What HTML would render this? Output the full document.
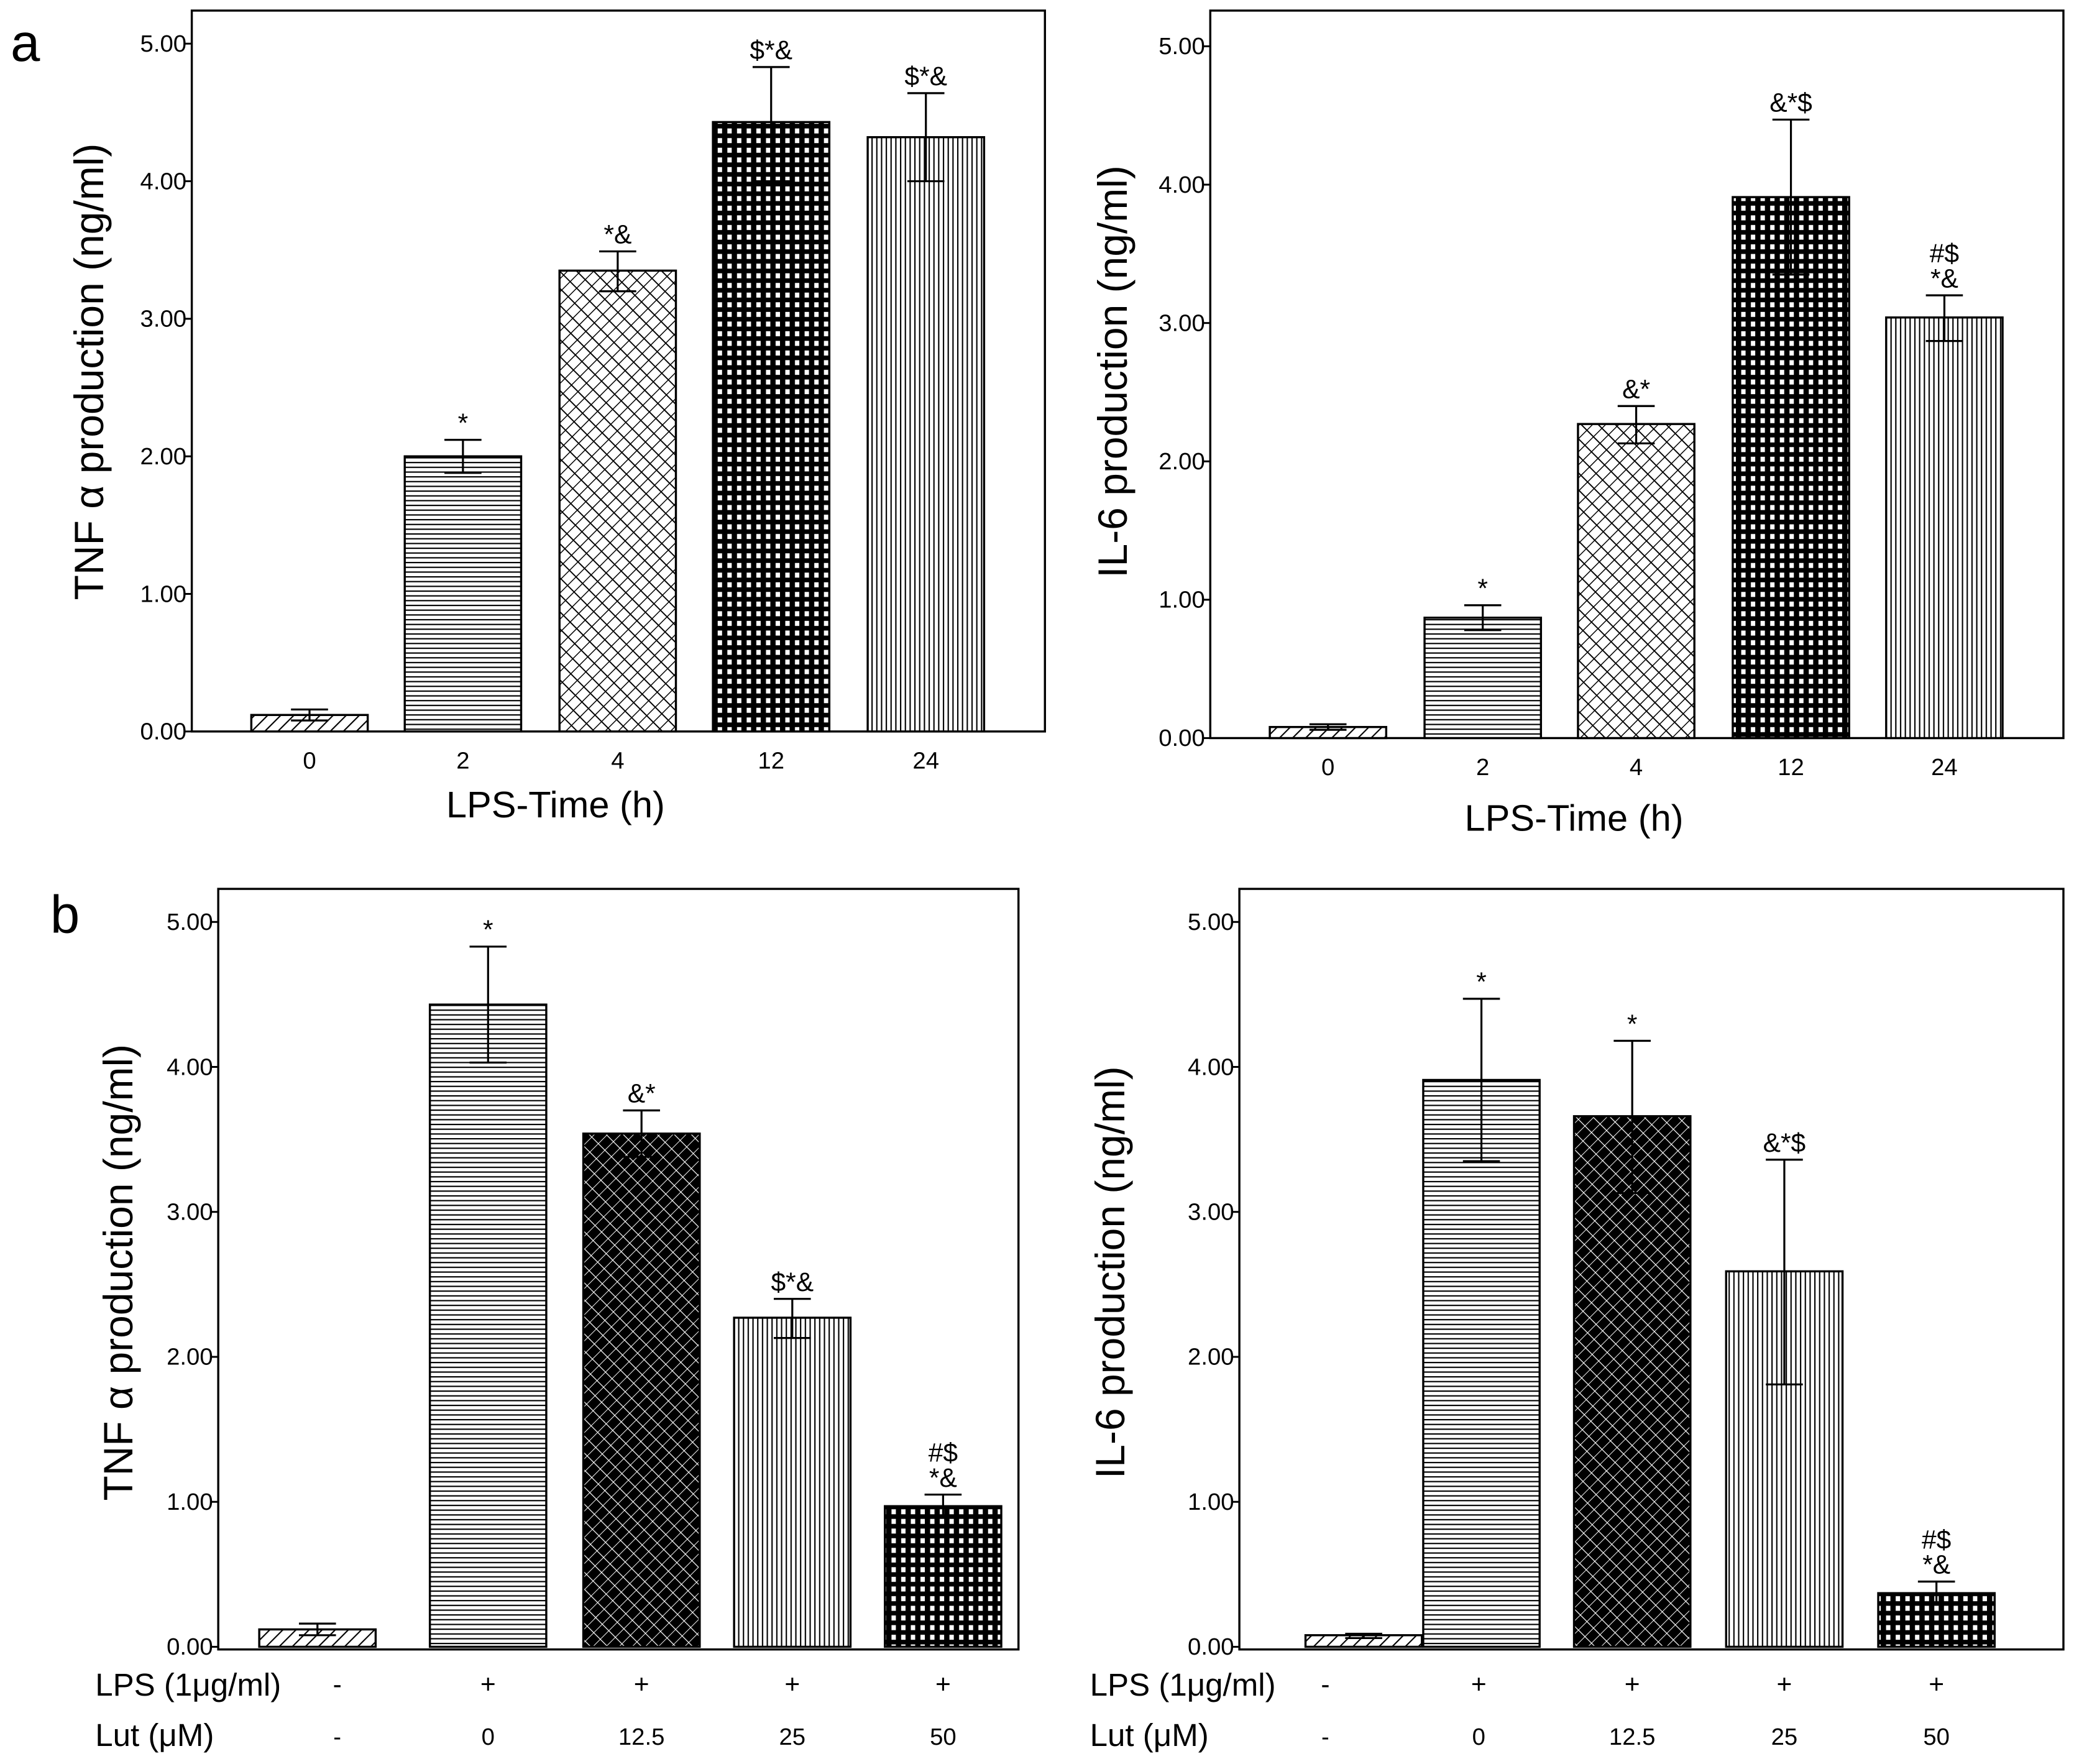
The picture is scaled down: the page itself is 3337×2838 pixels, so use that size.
<!DOCTYPE html>
<html><head><meta charset="utf-8"><style>
html,body{margin:0;padding:0;background:#fff}
svg{display:block}
text{font-family:"Liberation Sans",Arial,sans-serif;fill:#000}
</style></head><body>
<svg id="fig" width="3337" height="2838" viewBox="0 0 1568 1333.6" preserveAspectRatio="none" xmlns="http://www.w3.org/2000/svg">
<defs>
<pattern id="pDiag" patternUnits="userSpaceOnUse" width="7" height="7" patternTransform="rotate(45)"><rect width="7" height="7" fill="#fff"/><line x1="0" y1="0" x2="0" y2="7" stroke="#000" stroke-width="2"/></pattern>
<pattern id="pHoriz" patternUnits="userSpaceOnUse" width="4" height="3.6"><rect width="4" height="3.6" fill="#fff"/><line x1="0" y1="0.5" x2="4" y2="0.5" stroke="#000" stroke-width="1"/></pattern>
<pattern id="pVert" patternUnits="userSpaceOnUse" width="3.6" height="4"><rect width="3.6" height="4" fill="#fff"/><line x1="0.5" y1="0" x2="0.5" y2="4" stroke="#000" stroke-width="1"/></pattern>
<pattern id="pCross" patternUnits="userSpaceOnUse" width="7" height="7" patternTransform="rotate(45) scale(1,1.3)"><rect width="7" height="7" fill="#fff"/><line x1="0" y1="0" x2="7" y2="0" stroke="#000" stroke-width="1.4"/><line x1="0" y1="0" x2="0" y2="7" stroke="#000" stroke-width="1.4"/></pattern>
<pattern id="pDark" patternUnits="userSpaceOnUse" width="7" height="7" patternTransform="rotate(45) scale(1,1.3)"><rect width="7" height="7" fill="#000"/><line x1="0" y1="0" x2="7" y2="0" stroke="#fff" stroke-width="0.9"/><line x1="0" y1="0" x2="0" y2="7" stroke="#fff" stroke-width="0.9"/></pattern>
<pattern id="pGrid" patternUnits="userSpaceOnUse" width="7.3" height="7.3"><rect width="7.3" height="7.3" fill="#000"/><rect x="2.4" y="2.2" width="3.3" height="3.8" fill="#fff"/></pattern>
</defs>
<g id="root"></g>
</svg>
<script>
// Panel a-left
const aLeftCats = ["0","2","4","12","24"];
const aLeftVals = [0.12, 2.0, 3.35, 4.43, 4.32];
const aLeftHi = [0.16, 2.12, 3.49, 4.83, 4.64];
const aLeftLo = [0.08, 1.88, 3.2, 4.0, 4.0];
const aLeftSig = [[""],["*"],["*&"],["$*&"],["$*&"]];
// Panel a-right
const aRightCats = ["0","2","4","12","24"];
const aRightVals = [0.08, 0.87, 2.27, 3.91, 3.04];
const aRightHi = [0.1, 0.96, 2.4, 4.47, 3.2];
const aRightLo = [0.06, 0.78, 2.13, 3.35, 2.87];
const aRightSig = [[""],["*"],["&*"],["&*$"],["#$","*&"]];
// Panel b-left
const bLeftLut = ["-","0","12.5","25","50"];
const bLeftLps = ["-","+","+","+","+"];
const bLeftVals = [0.12, 4.43, 3.54, 2.27, 0.97];
const bLeftHi = [0.16, 4.83, 3.7, 2.4, 1.05];
const bLeftLo = [0.08, 4.03, 3.38, 2.13, 0.9];
const bLeftSig = [[""],["*"],["&*"],["$*&"],["#$","*&"]];
// Panel b-right
const bRightLut = ["-","0","12.5","25","50"];
const bRightLps = ["-","+","+","+","+"];
const bRightVals = [0.08, 3.91, 3.66, 2.59, 0.37];
const bRightHi = [0.09, 4.47, 4.18, 3.36, 0.45];
const bRightLo = [0.06, 3.35, 3.13, 1.81, 0.3];
const bRightSig = [[""],["*"],["*"],["&*$"],["#$","*&"]];
const yTicks = [0,1,2,3,4,5];

const NS="http://www.w3.org/2000/svg";
const root=document.getElementById('root');
function mk(tag,attrs,parent,txt){const e=document.createElementNS(NS,tag);for(const k in attrs)e.setAttribute(k,attrs[k]);if(txt!==undefined)e.textContent=txt;(parent||root).appendChild(e);return e;}

function panel(p){
  const g=mk('g',{});
  
  
  const y=v=>p.y0-(p.y0-p.y5)*v/5;
  const box=mk('rect',{x:p.bx0,y:p.by0,width:p.bx1-p.bx0,height:p.by1-p.by0,fill:'none',stroke:'#000','stroke-width':1.6},g);
  
  
  yTicks.forEach(t=>{
    const yy=y(t);
    const tl=mk('line',{x1:p.bx0-5,y1:yy,x2:p.bx0,y2:yy,stroke:'#000','stroke-width':1.4},g);
    
    
    const tx=mk('text',{x:p.bx0-4,y:yy+6,'font-size':18,'text-anchor':'end'},g,t.toFixed(2));
    
    
  });
  const pats=p.pats;
  p.vals.forEach((v,i)=>{
    const cx=p.cx[i], w=p.bw;
    const r=mk('rect',{x:cx-w/2,y:y(v),width:w,height:p.y0-y(v),fill:'url(#'+pats[i]+')',stroke:'#000','stroke-width':1.6},g);
    
    
    const e=mk('path',{d:`M${cx},${y(p.lo[i])}V${y(p.hi[i])}M${cx-14},${y(p.hi[i])}H${cx+14}M${cx-14},${y(p.lo[i])}H${cx+14}`,stroke:pats[i]==='pGrid'||pats[i]==='pDark'?'#000':'#000','stroke-width':1.5,fill:'none'},g);
    
    
    const lines=p.sig[i];
    lines.forEach((s,k)=>{
      if(!s)return;
      const ty=y(p.hi[i])-6-(lines.length-1-k)*19;
      const st=mk('text',{x:cx,y:ty,'font-size':20,'text-anchor':'middle'},g,s);
      
      
    });
    if(p.cats){
      const ct=mk('text',{x:cx,y:p.by1+28,'font-size':18,'text-anchor':'middle'},g,p.cats[i]);
      
      
    } else {
      const l1=mk('text',{x:p.tcx[i],y:p.by1+33,'font-size':20,'text-anchor':'middle'},g,p.lps[i]);
      
      
      const l2=mk('text',{x:p.tcx[i],y:p.by1+72,'font-size':18,'text-anchor':'middle'},g,p.lut[i]);
      
      
    }
  });
  if(p.xlabel){
    const xl=mk('text',{x:p.xlx,y:p.xly,'font-size':28,'text-anchor':'middle'},g,p.xlabel);
    
    
  } else {
    const a=mk('text',{x:p.rowx,y:p.by1+35,'font-size':24},g,'LPS (1μg/ml)');
    
    
    const b=mk('text',{x:p.rowx,y:p.by1+73,'font-size':24},g,'Lut (μM)');
    
    
  }
  const yl=mk('text',{x:0,y:0,'font-size':31,'text-anchor':'middle',transform:`translate(${p.ylx},${p.yly}) rotate(-90)`},g,p.ylabel);
  
  
}

panel({name:'panel-a-tnf',bx0:145,bx1:790,by0:8,by1:553,y0:553,y5:33,bw:88,cx:[234,350,467,583,700],
  vals:aLeftVals,hi:aLeftHi,lo:aLeftLo,sig:aLeftSig,cats:aLeftCats,pats:['pDiag','pHoriz','pCross','pGrid','pVert'],
  xlabel:'LPS-Time (h)',xlx:420,xly:618,ylabel:'TNF α production (ng/ml)',ylx:78,yly:281});
panel({name:'panel-a-il6',bx0:915,bx1:1560,by0:8,by1:558,y0:558,y5:35,bw:88,cx:[1004,1121,1237,1354,1470],
  vals:aRightVals,hi:aRightHi,lo:aRightLo,sig:aRightSig,cats:aRightCats,pats:['pDiag','pHoriz','pCross','pGrid','pVert'],
  xlabel:'LPS-Time (h)',xlx:1190,xly:628,ylabel:'IL-6 production (ng/ml)',ylx:852,yly:281});
panel({name:'panel-b-tnf',bx0:165,bx1:770,by0:672,by1:1247,y0:1245,y5:697,bw:88,cx:[240,369,485,599,713],tcx:[255,369,485,599,713],
  vals:bLeftVals,hi:bLeftHi,lo:bLeftLo,sig:bLeftSig,lps:bLeftLps,lut:bLeftLut,pats:['pDiag','pHoriz','pDark','pVert','pGrid'],
  rowx:72,ylabel:'TNF α  production (ng/ml)',ylx:100,yly:962});
panel({name:'panel-b-il6',bx0:937,bx1:1560,by0:672,by1:1247,y0:1245,y5:697,bw:88,cx:[1031,1120,1234,1349,1464],tcx:[1002,1118,1234,1349,1464],
  vals:bRightVals,hi:bRightHi,lo:bRightLo,sig:bRightSig,lps:bRightLps,lut:bRightLut,pats:['pDiag','pHoriz','pDark','pVert','pGrid'],
  rowx:824,ylabel:'IL-6 production (ng/ml)',ylx:850,yly:962});

const la=mk('text',{x:8,y:46,'font-size':40},root,'a');


const lb=mk('text',{x:38,y:705,'font-size':40},root,'b');


</script>
</body></html>
